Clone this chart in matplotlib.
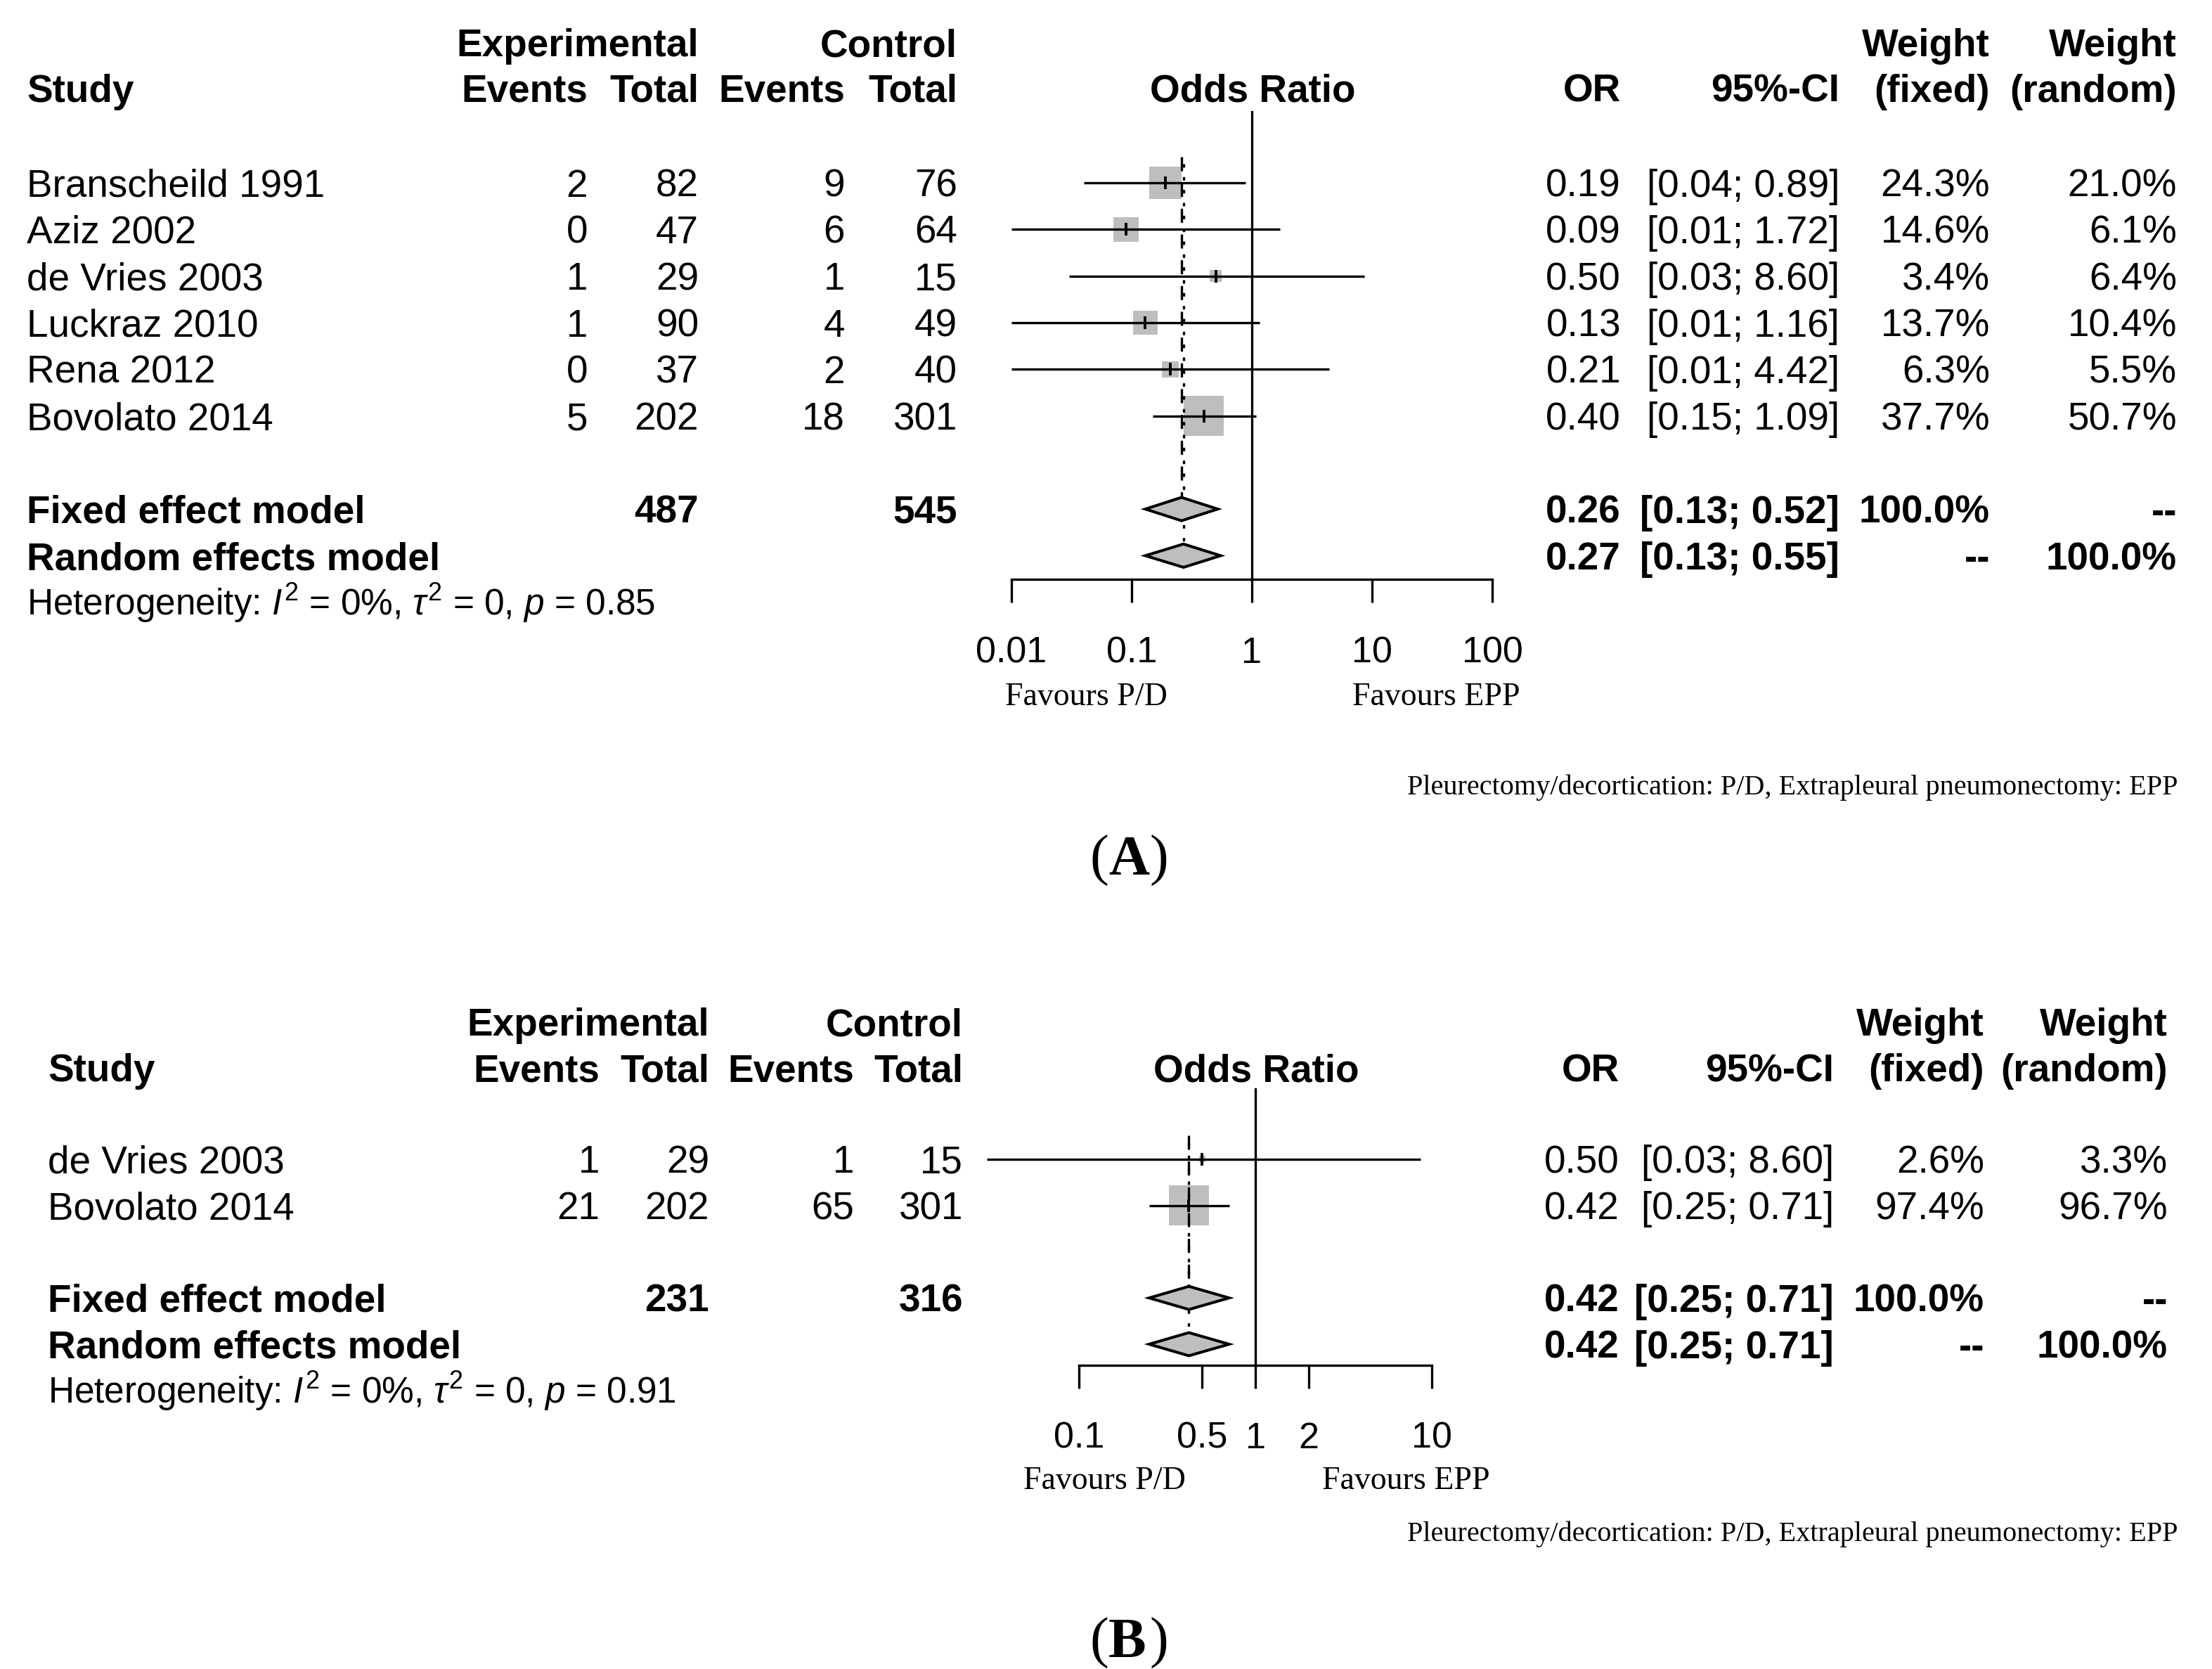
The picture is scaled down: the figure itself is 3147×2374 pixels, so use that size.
import matplotlib
matplotlib.use("Agg")
import matplotlib.pyplot as plt
import numpy as np
from matplotlib.ticker import NullLocator

plt.rcParams['mathtext.fontset'] = 'custom'
plt.rcParams['mathtext.rm'] = 'Liberation Sans'
plt.rcParams['mathtext.it'] = 'Liberation Sans:italic'
plt.rcParams['mathtext.bf'] = 'Liberation Sans:bold'

# ---------------- data: panel A ----------------
studies_a = ["Branscheild 1991", "Aziz 2002", "de Vries 2003", "Luckraz 2010", "Rena 2012", "Bovolato 2014"]
exp_events_a = [2, 0, 1, 1, 0, 5]
exp_total_a = [82, 47, 29, 90, 37, 202]
ctrl_events_a = [9, 6, 1, 4, 2, 18]
ctrl_total_a = [76, 64, 15, 49, 40, 301]
or_a = [0.19, 0.09, 0.50, 0.13, 0.21, 0.40]
lo_a = [0.04, 0.01, 0.03, 0.01, 0.01, 0.15]
hi_a = [0.89, 1.72, 8.60, 1.16, 4.42, 1.09]
wfix_a = [24.3, 14.6, 3.4, 13.7, 6.3, 37.7]
wran_a = [21.0, 6.1, 6.4, 10.4, 5.5, 50.7]
fixed_a = [0.26, 0.13, 0.52]
random_a = [0.27, 0.13, 0.55]
het_a = r"Heterogeneity: $I^2$ = 0%, $\tau^2$ = 0, $p$ = 0.85"
ticks_a = [0.01, 0.1, 1, 10, 100]
ticklabels_a = ["0.01", "0.1", "1", "10", "100"]

# ---------------- data: panel B ----------------
studies_b = ["de Vries 2003", "Bovolato 2014"]
exp_events_b = [1, 21]
exp_total_b = [29, 202]
ctrl_events_b = [1, 65]
ctrl_total_b = [15, 301]
or_b = [0.50, 0.42]
lo_b = [0.03, 0.25]
hi_b = [8.60, 0.71]
wfix_b = [2.6, 97.4]
wran_b = [3.3, 96.7]
fixed_b = [0.42, 0.25, 0.71]
random_b = [0.42, 0.25, 0.71]
het_b = r"Heterogeneity: $I^2$ = 0%, $\tau^2$ = 0, $p$ = 0.91"
ticks_b = [0.1, 0.5, 1, 2, 10]
ticklabels_b = ["0.1", "0.5", "1", "2", "10"]

footnote = "Pleurectomy/decortication: P/D, Extrapleural pneumonectomy: EPP"

W, H = 3147, 2374
SANS = "Liberation Sans"
SERIF = "Liberation Serif"
FS = 39.5
FS_HET = 37
FS_TICK = 37.5
FS_FAV = 33
FS_NOTE = 29
FS_LAB = 58
GRAY = "#BEBEBE"
LW = 2.4

fig = plt.figure(figsize=(W / 100, H / 100), dpi=100)
ax0 = fig.add_axes([0, 0, 1, 1])
ax0.set_xlim(0, W)
ax0.set_ylim(H, 0)
ax0.axis("off")


def txt(x, yc, s, ha="left", bold=False, fs=FS, fam=SANS, capfrac=0.716):
    em = fs * 100 / 72
    ax0.text(x, yc + capfrac * em / 2, s, ha=ha, va="baseline", fontsize=fs,
             fontweight="bold" if bold else "normal", family=fam)


LA = dict(row0=260, step=66.3, hdr1=60.6, hdr2=125, study=38, ee=836, et=994, ce=1202, ct=1362,
          orx=2306, ci=2617, wf=2831, wr=3097, oddsx=1782, x1=1781, dec=171,
          axis_y=823.6, vtop=159, dtop=223, fav_y=988, favL=1545, favR=2043,
          note_y=1117, lab_y=1217, lab="A", pad=35)
LB = dict(row0=1648.8, step=65.8, hdr1=1453.5, hdr2=1518.6, study=68, ee=853, et=1009, ce=1215, ct=1370,
          orx=2304, ci=2609, wf=2823, wr=3084, oddsx=1787, x1=1786, dec=251,
          axis_y=1942, vtop=1549, dtop=1615, fav_y=2103, favL=1571, favR=2000,
          note_y=2179, lab_y=2330, lab="B", pad=34)


def panel(L, studies, ee, et, ce, ct, ors, lo, hi, wf, wr, fixed, random, het, ticks, ticklabels):
    n = len(studies)
    ry = lambda r: L["row0"] + L["step"] * r
    # headers
    txt(L["et"], L["hdr1"], "Experimental", ha="right", bold=True)
    txt(L["ct"], L["hdr1"], "Control", ha="right", bold=True)
    txt(L["wf"], L["hdr1"], "Weight", ha="right", bold=True)
    txt(L["wr"], L["hdr1"], "Weight", ha="right", bold=True)
    txt(L["study"], L["hdr2"], "Study", bold=True)
    txt(L["ee"], L["hdr2"], "Events", ha="right", bold=True)
    txt(L["et"], L["hdr2"], "Total", ha="right", bold=True)
    txt(L["ce"], L["hdr2"], "Events", ha="right", bold=True)
    txt(L["ct"], L["hdr2"], "Total", ha="right", bold=True)
    txt(L["oddsx"], L["hdr2"], "Odds Ratio", ha="center", bold=True)
    txt(L["orx"], L["hdr2"], "OR", ha="right", bold=True)
    txt(L["ci"], L["hdr2"], "95%-CI", ha="right", bold=True)
    txt(L["wf"], L["hdr2"], "(fixed)", ha="right", bold=True)
    txt(L["wr"], L["hdr2"], "(random)", ha="right", bold=True)
    # study rows
    for i in range(n):
        y = ry(i)
        txt(L["study"], y, studies[i])
        txt(L["ee"], y, str(ee[i]), ha="right")
        txt(L["et"], y, str(et[i]), ha="right")
        txt(L["ce"], y, str(ce[i]), ha="right")
        txt(L["ct"], y, str(ct[i]), ha="right")
        txt(L["orx"], y, f"{ors[i]:.2f}", ha="right")
        txt(L["ci"], y, f"[{lo[i]:.2f}; {hi[i]:.2f}]", ha="right")
        txt(L["wf"], y, f"{wf[i]:.1f}%", ha="right")
        txt(L["wr"], y, f"{wr[i]:.1f}%", ha="right")
    # model rows
    yf, yr = ry(n + 1), ry(n + 2)
    txt(L["study"], yf, "Fixed effect model", bold=True)
    txt(L["et"], yf, str(sum(et)), ha="right", bold=True)
    txt(L["ct"], yf, str(sum(ct)), ha="right", bold=True)
    txt(L["orx"], yf, f"{fixed[0]:.2f}", ha="right", bold=True)
    txt(L["ci"], yf, f"[{fixed[1]:.2f}; {fixed[2]:.2f}]", ha="right", bold=True)
    txt(L["wf"], yf, "100.0%", ha="right", bold=True)
    txt(L["wr"], yf, "--", ha="right", bold=True)
    txt(L["study"], yr, "Random effects model", bold=True)
    txt(L["orx"], yr, f"{random[0]:.2f}", ha="right", bold=True)
    txt(L["ci"], yr, f"[{random[1]:.2f}; {random[2]:.2f}]", ha="right", bold=True)
    txt(L["wf"], yr, "--", ha="right", bold=True)
    txt(L["wr"], yr, "100.0%", ha="right", bold=True)
    txt(L["study"], ry(n + 3), het, fs=FS_HET)
    # favours / footnote / label
    txt(L["favL"], L["fav_y"], "Favours P/D", ha="center", fs=FS_FAV, fam=SERIF, capfrac=0.662)
    txt(L["favR"], L["fav_y"], "Favours EPP", ha="center", fs=FS_FAV, fam=SERIF, capfrac=0.662)
    txt(3099, L["note_y"], footnote, ha="right", fs=FS_NOTE, fam=SERIF, capfrac=0.662)
    em = FS_LAB * 100 / 72
    x0 = 1550
    txt(x0, L["lab_y"], "(", fs=FS_LAB, fam=SERIF, capfrac=0.662)
    txt(x0 + 0.333 * em, L["lab_y"], L["lab"], fs=FS_LAB, fam=SERIF, bold=True, capfrac=0.662)
    txt(x0 + 0.333 * em + 0.722 * em, L["lab_y"], ")", fs=FS_LAB, fam=SERIF, capfrac=0.662)

    # forest axes
    xa, xb = 1300, 2300
    ya, yb = L["vtop"] - 40, L["axis_y"] + 140
    ax = fig.add_axes([xa / W, 1 - yb / H, (xb - xa) / W, (yb - ya) / H])
    ax.set_xscale("log")
    ax.set_xlim(10 ** ((xa - L["x1"]) / L["dec"]), 10 ** ((xb - L["x1"]) / L["dec"]))
    tr = lambda y: (y - L["row0"]) / L["step"]
    ax.set_ylim(tr(yb), tr(ya))
    ax.patch.set_alpha(0)
    for sp in ["top", "left", "right"]:
        ax.spines[sp].set_visible(False)
    r_axis = tr(L["axis_y"])
    ax.spines["bottom"].set_position(("data", r_axis))
    ax.spines["bottom"].set_bounds(ticks[0], ticks[-1])
    ax.spines["bottom"].set_linewidth(LW)
    ax.set_xticks(ticks, ticklabels)
    ax.xaxis.set_minor_locator(NullLocator())
    ax.tick_params(axis="x", direction="out", length=23.5, width=LW, pad=L["pad"], labelsize=FS_TICK)
    for lbl in ax.get_xticklabels():
        lbl.set_family(SANS)
    ax.set_yticks([])

    rows = np.arange(n)
    wmax = max(wf)
    sizes = [(57 * np.sqrt(w / wmax) * 0.72) ** 2 for w in wf]
    ax.scatter(ors, rows, s=sizes, marker="s", color=GRAY, linewidths=0, zorder=2, clip_on=False)
    ax.hlines(rows, lo, hi, color="k", lw=LW, zorder=3, clip_on=False)
    ax.plot(ors, rows, ls="none", marker="|", ms=12.5, mew=2.8, color="k", zorder=4, clip_on=False)
    # null line
    ax.plot([1, 1], [tr(L["vtop"]), r_axis], color="k", lw=LW, zorder=3, clip_on=False)
    dh = 0.25
    r_dash = tr(L["dtop"])
    ax.plot([fixed[0], fixed[0]], [r_dash, n + 1 - dh], color="k", lw=LW, ls=(0, (6, 5)), zorder=3)
    ax.plot([random[0], random[0]], [r_dash, n + 2 - dh], color="k", lw=LW, ls=(2.5, (1.5, 4)), zorder=3)
    for est, r in ((fixed, n + 1), (random, n + 2)):
        ax.fill([est[1], est[0], est[2], est[0]], [r, r - dh, r, r + dh],
                facecolor=GRAY, edgecolor="k", lw=2.9, zorder=4, clip_on=False)


panel(LA, studies_a, exp_events_a, exp_total_a, ctrl_events_a, ctrl_total_a, or_a, lo_a, hi_a,
      wfix_a, wran_a, fixed_a, random_a, het_a, ticks_a, ticklabels_a)
panel(LB, studies_b, exp_events_b, exp_total_b, ctrl_events_b, ctrl_total_b, or_b, lo_b, hi_b,
      wfix_b, wran_b, fixed_b, random_b, het_b, ticks_b, ticklabels_b)

fig.savefig("out.png", dpi=100, facecolor="white")
